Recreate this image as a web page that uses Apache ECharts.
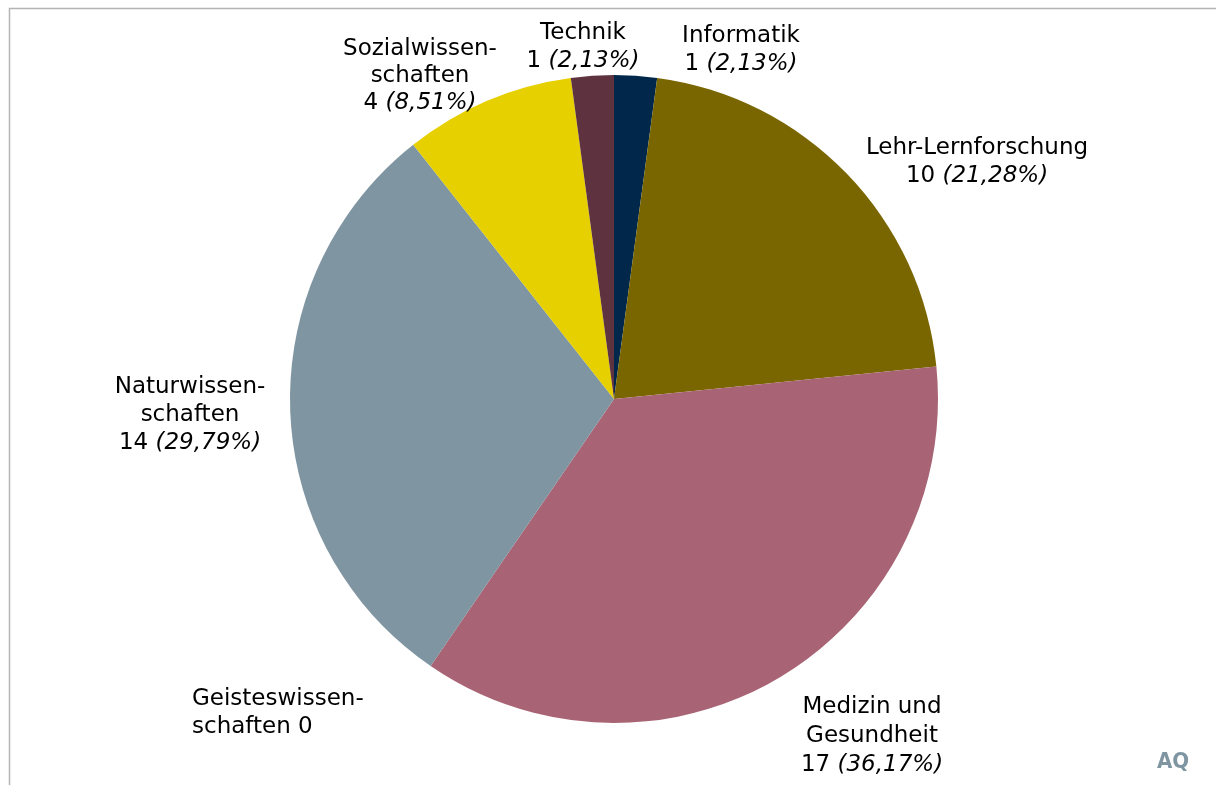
<!DOCTYPE html>
<html>
<head>
<meta charset="utf-8">
<script src="https://cdn.jsdelivr.net/npm/echarts@6/dist/echarts.min.js"></script>
<style>
  html, body { margin: 0; padding: 0; background: #fff; }
  #chart { width: 1216px; height: 785px; }
</style>
</head>
<body>
<div id="chart"></div>
<script>
// Fachgebiete, clockwise from twelve o'clock
const categories = ['Informatik', 'Lehr-Lernforschung', 'Medizin und Gesundheit', 'Geisteswissenschaften', 'Naturwissenschaften', 'Sozialwissenschaften', 'Technik'];
// Label text as it is wrapped in the chart
const labelNames = ['Informatik', 'Lehr-Lernforschung', 'Medizin und\nGesundheit', 'Geisteswissen-\nschaften', 'Naturwissen-\nschaften', 'Sozialwissen-\nschaften', 'Technik'];
const counts = [1, 10, 17, 0, 14, 4, 1];
const colors = ['#01284a', '#7a6600', '#a86474', '#c8c8c8', '#7f95a1', '#e6d000', '#5e323f'];

// Label anchors: [x, top y, horizontal alignment, line height]
const labelAnchors = [
  [741, 22, 'center', 28],
  [977, 134, 'center', 28],
  [872, 693, 'center', 29],
  [192, 685, 'left', 28],
  [190, 373, 'center', 28],
  [420, 36, 'center', 27],
  [583, 19, 'center', 28]
];

const total = counts.reduce((a, b) => a + b, 0);
const fmtPct = v => (v / total * 100).toFixed(2).replace('.', ',') + '%';

const data = categories.map((c, i) => ({
  name: c,
  value: counts[i],
  itemStyle: { color: colors[i] },
  label: {
    rich: {
      n: { lineHeight: labelAnchors[i][3] },
      i: { lineHeight: labelAnchors[i][3], fontStyle: 'italic' }
    }
  }
}));

const chart = echarts.init(document.getElementById('chart'));
chart.setOption({
  animation: false,
  backgroundColor: '#ffffff',
  textStyle: { fontFamily: 'DejaVu Sans' },
  graphic: [
    {
      type: 'rect',
      shape: { x: 9.5, y: 8.5, width: 1220, height: 800 },
      style: { fill: 'none', stroke: '#b4b4b4', lineWidth: 1.5 },
      silent: true
    },
    {
      type: 'text',
      left: 1157, top: 751,
      style: { text: 'AQ', fill: '#7f95a1', font: 'bold 22px "DejaVu Sans Condensed"' },
      silent: true
    }
  ],
  series: [{
    type: 'pie',
    center: [614, 399],
    radius: 324,
    startAngle: 90,
    clockwise: true,
    avoidLabelOverlap: false,
    stillShowZeroSum: true,
    data: data,
    itemStyle: { borderWidth: 0 },
    labelLine: { show: false },
    emphasis: { disabled: true },
    label: {
      show: true,
      position: 'outside',
      color: '#000',
      fontSize: 23,
      lineHeight: 28,
      fontFamily: 'DejaVu Sans',
      formatter: p => {
        const i = p.dataIndex;
        if (p.value === 0) {
          const parts = labelNames[i].split('\n');
          return '{n|' + parts[0] + '}\n{n|' + parts[1] + ' ' + p.value + '}';
        }
        const lines = labelNames[i].split('\n').map(s => '{n|' + s + '}');
        lines.push('{n|' + p.value + ' }{i|(' + fmtPct(p.value) + ')}');
        return lines.join('\n');
      },
      rich: {
        n: { fontSize: 23, lineHeight: 28, color: '#000', fontFamily: 'DejaVu Sans' },
        i: { fontSize: 23, lineHeight: 28, color: '#000', fontFamily: 'DejaVu Sans', fontStyle: 'italic' }
      }
    },
    labelLayout: params => {
      const a = labelAnchors[params.dataIndex];
      return { x: a[0], y: a[1], align: a[2], verticalAlign: 'top' };
    }
  }]
});
</script>
</body>
</html>
